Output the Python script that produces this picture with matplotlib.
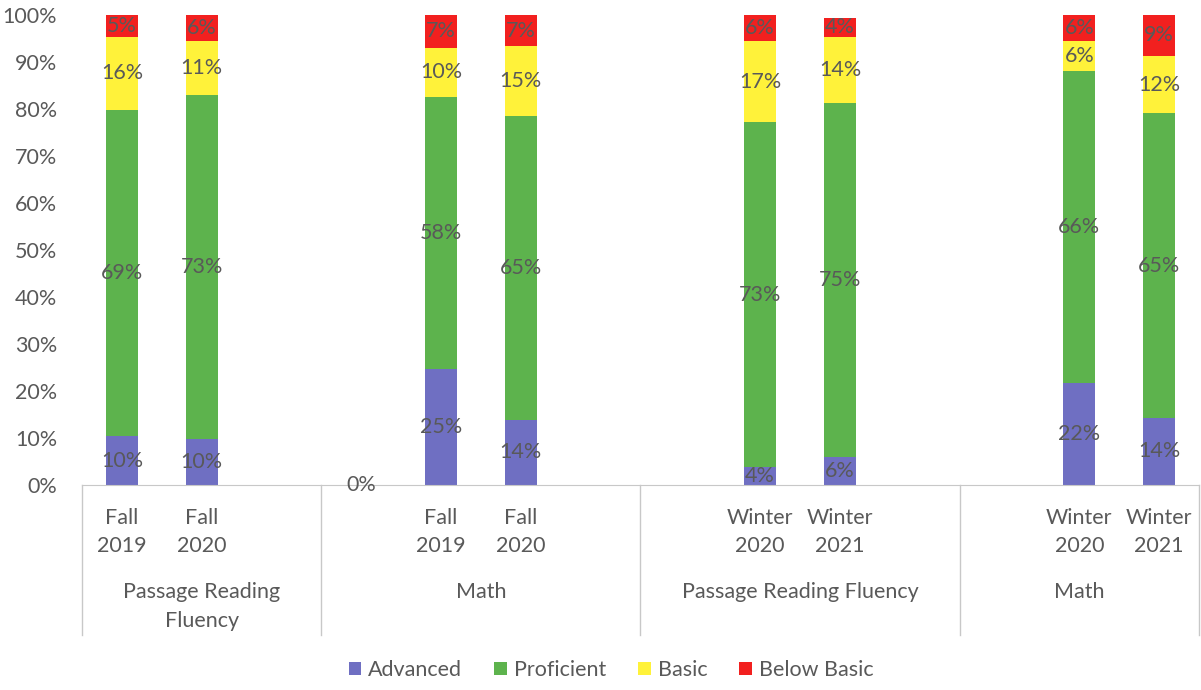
import matplotlib
matplotlib.use("Agg")
import matplotlib.pyplot as plt
import matplotlib.transforms as mtransforms
import numpy as np

plt.rcParams['font.family'] = ['Lato', 'DejaVu Sans']

# Category slots: 14 slots, blank ones keep the group spacing
slot_labels = ["Fall\n2019", "Fall\n2020", "",
               "", "Fall\n2019", "Fall\n2020", "",
               "", "Winter\n2020", "Winter\n2021", "",
               "", "Winter\n2020", "Winter\n2021"]
groups = ["Passage Reading\nFluency", "Math", "Passage Reading Fluency", "Math"]
group_edges = [-0.5, 2.5, 6.5, 10.5, 13.5]

nan = np.nan
advanced = [10.4, 9.8, nan, 0.0, 24.7, 13.9, nan, nan, 3.8, 6.0, nan, nan, 21.7, 14.3]
proficient = [69.4, 73.2, nan, nan, 57.9, 64.6, nan, nan, 73.4, 75.2, nan, nan, 66.4, 64.8]
basic = [15.6, 11.4, nan, nan, 10.4, 14.9, nan, nan, 17.2, 14.1, nan, nan, 6.3, 12.2]
below_basic = [4.6, 5.6, nan, nan, 7.0, 6.6, nan, nan, 5.6, 4.1, nan, nan, 5.6, 8.7]

series = [("Advanced", advanced, "#6f6fc2"),
          ("Proficient", proficient, "#5db34d"),
          ("Basic", basic, "#fff23a"),
          ("Below Basic", below_basic, "#f2201f")]

text_col = "#595959"
line_col = "#c8c8c8"
fs = 15.5

fig = plt.figure(figsize=(12.01, 6.90), dpi=100)
ax = fig.add_axes([82 / 1201, 205 / 690, 1117 / 1201, 470 / 690])

x = np.arange(len(slot_labels))
bottom = np.zeros(len(x))
for name, vals, col in series:
    v = np.array(vals, dtype=float)
    ax.bar(x, np.nan_to_num(v), 0.4, bottom=bottom, color=col, label=name)
    for i in range(len(x)):
        if not np.isnan(v[i]):
            ax.text(x[i], bottom[i] + v[i] / 2, "{:.0f}%".format(v[i]),
                    ha="center", va="center", color=text_col, fontsize=fs)
    bottom += np.nan_to_num(v)

ax.set_xlim(-0.5, 13.5)
ax.set_ylim(0, 100)
ax.set_yticks(np.arange(0, 101, 10))
ax.set_yticklabels(["%d%%" % t for t in range(0, 101, 10)])
ax.tick_params(axis="y", length=0, pad=18, labelsize=fs, labelcolor=text_col)
ax.set_xticks([])
for s in ["top", "right", "left"]:
    ax.spines[s].set_visible(False)
ax.spines["bottom"].set_color(line_col)

# multi-level category axis below the bars
trans = mtransforms.blended_transform_factory(ax.transData, ax.transAxes)
for e in group_edges:
    ax.plot([e, e], [0, -0.32], transform=trans, color=line_col, lw=1, clip_on=False)
for i, lab in enumerate(slot_labels):
    if lab:
        ax.text(x[i], -0.05, lab, transform=trans, ha="center", va="top",
                color=text_col, fontsize=fs, linespacing=1.5)
for g, lab in enumerate(groups):
    xc = (group_edges[g] + group_edges[g + 1]) / 2
    ax.text(xc, -0.206, lab, transform=trans, ha="center", va="top",
            color=text_col, fontsize=fs, linespacing=1.6)

fig.legend(loc="center", bbox_to_anchor=(611 / 1201, 20 / 690), ncol=4,
           frameon=False, fontsize=fs, labelcolor=text_col, handlelength=0.6,
           handleheight=0.6, handletextpad=0.3, columnspacing=1.5)

fig.savefig("out.png", dpi=100)
